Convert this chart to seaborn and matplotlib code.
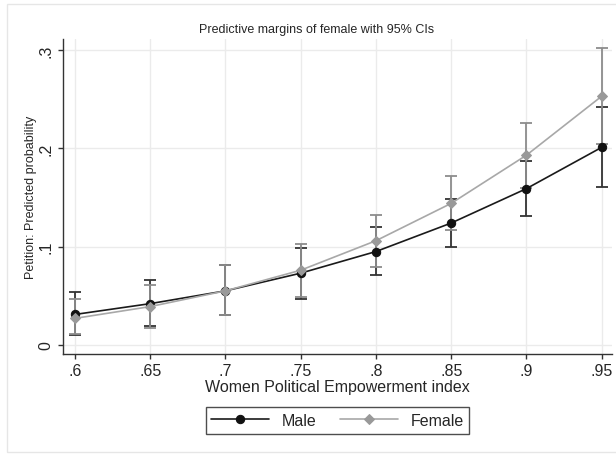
import numpy as np
import matplotlib
matplotlib.use("Agg")
import matplotlib.pyplot as plt
from matplotlib.patches import Rectangle
import pandas as pd
import seaborn as sns

# Dati (margini predittivi con IC 95%)
wpe = [0.60, 0.65, 0.70, 0.75, 0.80, 0.85, 0.90, 0.95]
male = [0.031, 0.042, 0.055, 0.073, 0.095, 0.124, 0.159, 0.201]
male_lo = [0.010, 0.019, 0.030, 0.047, 0.071, 0.100, 0.131, 0.161]
male_hi = [0.054, 0.066, 0.081, 0.099, 0.120, 0.148, 0.187, 0.242]
female = [0.027, 0.039, 0.055, 0.076, 0.106, 0.144, 0.193, 0.253]
female_lo = [0.011, 0.017, 0.030, 0.049, 0.079, 0.117, 0.160, 0.204]
female_hi = [0.047, 0.061, 0.081, 0.103, 0.132, 0.172, 0.226, 0.302]
x_ticks = [0.60, 0.65, 0.70, 0.75, 0.80, 0.85, 0.90, 0.95]
x_labels = ['.6', '.65', '.7', '.75', '.8', '.85', '.9', '.95']
y_ticks = [0, 0.1, 0.2, 0.3]
y_labels = ['0', '.1', '.2', '.3']

df = pd.DataFrame({
    'wpe': wpe * 2,
    'prob': male + female,
    'lo': male_lo + female_lo,
    'hi': male_hi + female_hi,
    'sex': ['Male'] * len(wpe) + ['Female'] * len(wpe),
})

sns.set_style('white')
plt.rcParams['font.family'] = ['Liberation Sans', 'DejaVu Sans']

fig = plt.figure(figsize=(6.16, 4.56), dpi=100)
ax = fig.add_axes([0.102, 0.2215, 0.892, 0.6905])

stili = {
    'Male': dict(line='#1a1a1a', marker='o', mfc='#111111', err='#333333', ms=6.0),
    'Female': dict(line='#a8a8a8', marker='D', mfc='#999999', err='#8c8c8c', ms=5.0),
}

# Intervalli di confidenza
for sex in ['Male', 'Female']:
    d = df[df['sex'] == sex]
    s = stili[sex]
    ax.errorbar(d['wpe'], d['prob'],
                yerr=[d['prob'] - d['lo'], d['hi'] - d['prob']],
                fmt='none', ecolor=s['err'], elinewidth=1.3,
                capsize=4, capthick=1.3, zorder=2)

# Linee con marker
for sex in ['Male', 'Female']:
    d = df[df['sex'] == sex]
    s = stili[sex]
    sns.lineplot(data=d, x='wpe', y='prob', ax=ax, color=s['line'],
                 marker=s['marker'], markersize=s['ms'],
                 markerfacecolor=s['mfc'], markeredgecolor=s['mfc'],
                 linewidth=1.2, label=sex, errorbar=None, zorder=3)

ax.set_xlim(0.592, 0.957)
ax.set_ylim(-0.0092, 0.311)
ax.set_xticks(x_ticks)
ax.set_xticklabels(x_labels, fontsize=11.5)
ax.set_yticks(y_ticks)
ax.set_yticklabels(y_labels, fontsize=11.5, rotation=90, va='center')
ax.grid(True, color='#ebebeb', linewidth=1.0)
ax.set_axisbelow(True)
for side in ['top', 'right']:
    ax.spines[side].set_visible(False)
for side in ['left', 'bottom']:
    ax.spines[side].set_color('#333333')
    ax.spines[side].set_linewidth(1.0)
ax.tick_params(axis='both', direction='out', length=3.5, width=1.0,
               color='#333333', pad=3, bottom=True, left=True)

ax.set_xlabel('Women Political Empowerment index', fontsize=11.5, labelpad=1)
ax.set_ylabel('Petition: Predicted probability', fontsize=9, labelpad=1.5)

fig.text(317 / 616, 1 - 33 / 456, 'Predictive margins of female with 95% CIs',
         ha='center', va='baseline', fontsize=9)

handles, labels = ax.get_legend_handles_labels()
ax.get_legend().remove()
leg = fig.legend(handles, labels, loc='center', bbox_to_anchor=(0.548, 0.0757),
                 ncol=2, fontsize=11.5, frameon=True, fancybox=False,
                 handlelength=3.6, columnspacing=1.5, borderpad=0.35,
                 handletextpad=0.8)
leg.get_frame().set_edgecolor('#222222')
leg.get_frame().set_linewidth(1.0)

# Cornice esterna chiara
fig.patches.append(Rectangle((7 / 616, 3 / 456), 1.0, 1 - 8 / 456,
                             transform=fig.transFigure, fill=False,
                             edgecolor='#e6e6e6', linewidth=1.0))

fig.savefig('out.png', dpi=100)
